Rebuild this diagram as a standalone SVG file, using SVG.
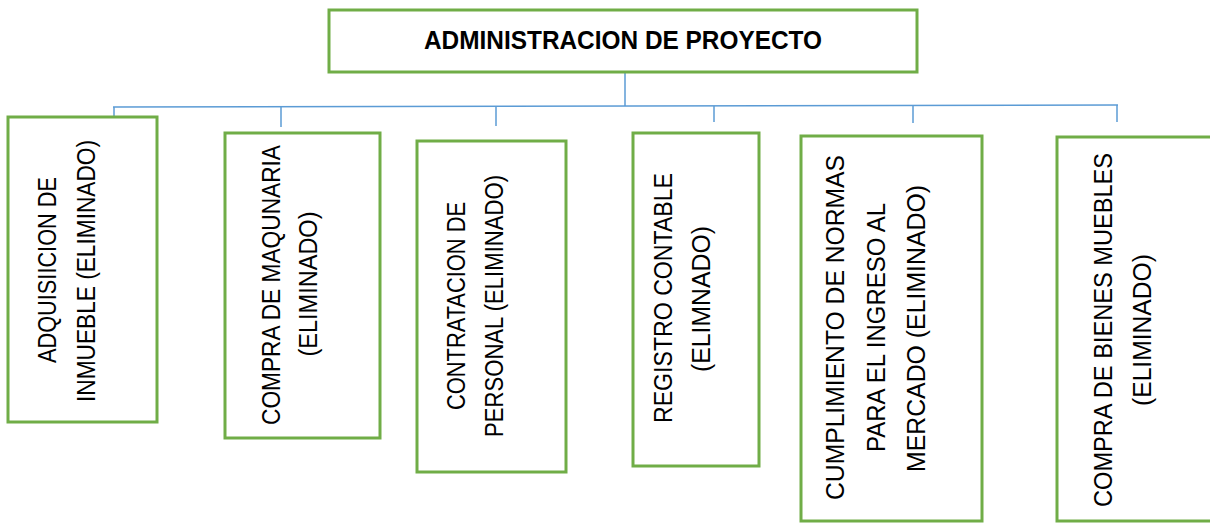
<svg xmlns="http://www.w3.org/2000/svg" width="1210" height="523" viewBox="0 0 1210 523">
<style>
.box{fill:#fff;stroke:#70AD47;stroke-width:3}
.conn line{stroke:#5B9BD5;stroke-width:1.5}
.t{font-family:"Liberation Sans",Arial,sans-serif;font-size:25px;fill:#000;text-anchor:middle}
.title{font-family:"Liberation Sans",Arial,sans-serif;font-size:25px;font-weight:bold;fill:#000;text-anchor:middle}
</style>
<rect width="1210" height="523" fill="#fff"/>
<g id="connectors" class="conn">
<line x1="625" y1="72" x2="625" y2="106"/>
<line x1="113" y1="107" x2="1118" y2="105"/>
<line x1="114" y1="107" x2="114" y2="117"/>
<line x1="281" y1="107" x2="281" y2="127"/>
<line x1="496" y1="106" x2="496" y2="126"/>
<line x1="714" y1="106" x2="714" y2="122"/>
<line x1="913" y1="105" x2="913" y2="123"/>
<line x1="1117" y1="105" x2="1117" y2="122"/>
</g>
<g id="root">
<rect class="box" x="329" y="10" width="588" height="62"/>
<text class="title" x="623" y="49" textLength="398" lengthAdjust="spacingAndGlyphs">ADMINISTRACION DE PROYECTO</text>
</g>
<g id="n1">
<rect class="box" x="8" y="117" width="149" height="305"/>
<text class="t" transform="translate(56,270) rotate(-90)" textLength="186" lengthAdjust="spacingAndGlyphs">ADQUISIICION DE</text>
<text class="t" transform="translate(95,271) rotate(-90)" textLength="262" lengthAdjust="spacingAndGlyphs">INMUEBLE (ELIMINADO)</text>
</g>
<g id="n2">
<rect class="box" x="225" y="133" width="155" height="305"/>
<text class="t" transform="translate(280,285) rotate(-90)" textLength="280" lengthAdjust="spacingAndGlyphs">COMPRA DE MAQUNARIA</text>
<text class="t" transform="translate(317,284) rotate(-90)" textLength="145" lengthAdjust="spacingAndGlyphs">(ELIMINADO)</text>
</g>
<g id="n3">
<rect class="box" x="417" y="141" width="149" height="331"/>
<text class="t" transform="translate(465,306) rotate(-90)" textLength="208" lengthAdjust="spacingAndGlyphs">CONTRATACION DE</text>
<text class="t" transform="translate(503,306) rotate(-90)" textLength="262" lengthAdjust="spacingAndGlyphs">PERSONAL (ELIMINADO)</text>
</g>
<g id="n4">
<rect class="box" x="633" y="133" width="126" height="333"/>
<text class="t" transform="translate(672,298) rotate(-90)" textLength="250" lengthAdjust="spacingAndGlyphs">REGISTRO CONTABLE</text>
<text class="t" transform="translate(710,299) rotate(-90)" textLength="146" lengthAdjust="spacingAndGlyphs">(ELIMNADO)</text>
</g>
<g id="n5">
<rect class="box" x="801" y="136" width="181" height="385"/>
<text class="t" transform="translate(844,327.5) rotate(-90)" textLength="345" lengthAdjust="spacingAndGlyphs">CUMPLIMIENTO DE NORMAS</text>
<text class="t" transform="translate(885,327.5) rotate(-90)" textLength="249" lengthAdjust="spacingAndGlyphs">PARA EL INGRESO AL</text>
<text class="t" transform="translate(925,328.5) rotate(-90)" textLength="287" lengthAdjust="spacingAndGlyphs">MERCADO (ELIMINADO)</text>
</g>
<g id="n6">
<rect class="box" x="1057" y="137" width="170" height="384"/>
<text class="t" transform="translate(1112,330) rotate(-90)" textLength="354" lengthAdjust="spacingAndGlyphs">COMPRA DE BIENES MUEBLES</text>
<text class="t" transform="translate(1151,330) rotate(-90)" textLength="152" lengthAdjust="spacingAndGlyphs">(ELIMINADO)</text>
</g>
</svg>
